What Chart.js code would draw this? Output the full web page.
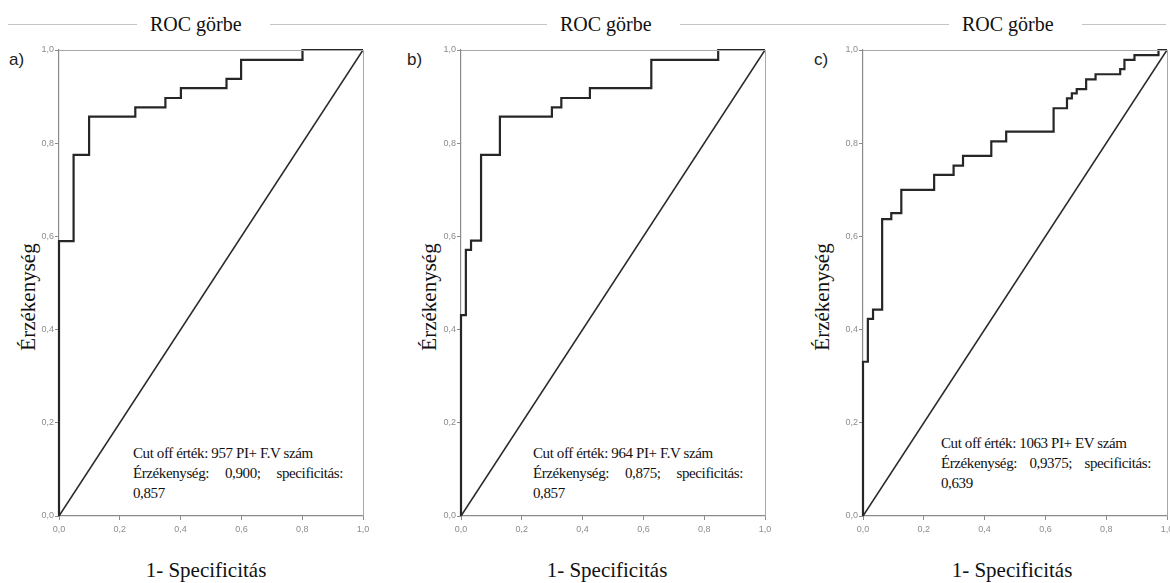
<!DOCTYPE html>
<html>
<head>
<meta charset="utf-8">
<script src="https://cdn.jsdelivr.net/npm/chart.js@4.4.1/dist/chart.umd.min.js"></script>
<style>
  html, body { margin: 0; padding: 0; background: #fff; }
  body { width: 1170px; height: 583px; position: relative; overflow: hidden; }
  canvas { position: absolute; top: 40px; }
  .rule { position: absolute; left: 8px; right: 4px; top: 24px; border-top: 1px solid #c4c4c4; }
  .title { position: absolute; top: 12px; font: 20px "Liberation Serif", serif; color: #111;
           background: #fff; padding: 0 28px 0 13px; line-height: 24px; }
  .tag { position: absolute; top: 50px; font: 17px "Liberation Sans Narrow", "Liberation Sans", sans-serif; color: #222; }
  .ytitle { position: absolute; font: 21px "Liberation Serif", serif; color: #111;
            transform: translate(-50%, -50%) rotate(-90deg); white-space: nowrap; }
  .xtitle { position: absolute; top: 558px; font: 21px "Liberation Serif", serif; color: #111;
            transform: translateX(-50%); white-space: nowrap; }
  .note { position: absolute; font: 15px "Liberation Serif", serif; color: #111; line-height: 20px;
          letter-spacing: -0.4px; }
  .note .just { width: 210px; text-align: justify; text-align-last: justify; }
</style>
</head>
<body>
<div class="rule"></div>
<div class="title" style="left:137px">ROC görbe</div>
<div class="title" style="left:547px">ROC görbe</div>
<div class="title" style="left:949px">ROC görbe</div>

<div class="tag" style="left:9px">a)</div>
<div class="tag" style="left:407px">b)</div>
<div class="tag" style="left:814px">c)</div>

<div class="ytitle" style="left:28px; top:297px">Érzékenység</div>
<div class="ytitle" style="left:429px; top:297px">Érzékenység</div>
<div class="ytitle" style="left:822px; top:297px">Érzékenység</div>

<div class="xtitle" style="left:206px">1- Specificitás</div>
<div class="xtitle" style="left:607px">1- Specificitás</div>
<div class="xtitle" style="left:1012px">1- Specificitás</div>

<div class="note" style="left:133px; top:443px">
  <div>Cut off érték: 957 PI+ F.V szám</div>
  <div class="just">Érzékenység: 0,900; specificitás:</div>
  <div>0,857</div>
</div>
<div class="note" style="left:533px; top:443px">
  <div>Cut off érték: 964 PI+ F.V szám</div>
  <div class="just">Érzékenység: 0,875; specificitás:</div>
  <div>0,857</div>
</div>
<div class="note" style="left:941px; top:433px">
  <div>Cut off érték: 1063 PI+ EV szám</div>
  <div class="just">Érzékenység: 0,9375; specificitás:</div>
  <div>0,639</div>
</div>

<canvas id="rocA" width="355" height="500" style="left:20px"></canvas>
<canvas id="rocB" width="355" height="500" style="left:422px"></canvas>
<canvas id="rocC" width="346" height="500" style="left:824px"></canvas>

<script>
// ROC step points: each point is where the curve rises (1 - specificity, sensitivity)
const fprA = [0, 0, 0.048, 0.099, 0.251, 0.350, 0.401, 0.551, 0.599, 0.801, 1.0];
const tprA = [0, 0.590, 0.775, 0.857, 0.877, 0.897, 0.918, 0.938, 0.979, 1.0, 1.0];

const fprB = [0, 0, 0.016, 0.033, 0.066, 0.128, 0.299, 0.330, 0.424, 0.626, 0.846, 1.0];
const tprB = [0, 0.431, 0.571, 0.591, 0.775, 0.857, 0.877, 0.897, 0.918, 0.979, 1.0, 1.0];

const fprC = [0, 0, 0.016, 0.033, 0.063, 0.093, 0.126, 0.234, 0.298, 0.329, 0.422, 0.471,
              0.627, 0.671, 0.687, 0.703, 0.734, 0.765, 0.846, 0.860, 0.893, 0.972, 1.0];
const tprC = [0, 0.331, 0.423, 0.443, 0.637, 0.650, 0.700, 0.732, 0.752, 0.773, 0.804, 0.825,
              0.875, 0.896, 0.907, 0.916, 0.937, 0.948, 0.959, 0.979, 0.989, 1.0, 1.0];

// reference (chance) line
const diagX = [0, 1];
const diagY = [0, 1];

const tickValues = [0, 0.2, 0.4, 0.6, 0.8, 1.0];

const toPoints = (xs, ys) => xs.map((x, i) => ({ x: x, y: ys[i] }));
const fmtTick = v => v.toFixed(1).replace('.', ',');

const frame = {
  id: 'frame',
  afterDraw(chart) {
    const a = chart.chartArea, ctx = chart.ctx;
    ctx.save();
    ctx.strokeStyle = '#a8a8a8';
    ctx.lineWidth = 1;
    ctx.beginPath();
    ctx.moveTo(a.left, a.top + 0.5);
    ctx.lineTo(a.right + 0.5, a.top + 0.5);
    ctx.lineTo(a.right + 0.5, a.bottom);
    ctx.stroke();
    ctx.restore();
  }
};

function axis(isX) {
  return {
    type: 'linear',
    min: 0,
    max: 1,
    afterBuildTicks: s => { s.ticks = tickValues.map(v => ({ value: v })); },
    afterFit: s => {
      if (isX) s.height = 24; else s.width = 39;
      s.paddingLeft = 0; s.paddingRight = 0; s.paddingTop = 0; s.paddingBottom = 0;
    },
    border: { display: true, color: '#8a8a8a', width: 1.2 },
    grid: { drawOnChartArea: false, drawTicks: true, tickLength: 4, color: '#8a8a8a' },
    ticks: {
      color: '#8c8c8c',
      padding: isX ? 4 : 1,
      maxRotation: 0,
      autoSkip: false,
      font: { family: '"Liberation Sans Narrow", "Liberation Sans", sans-serif', size: 9 },
      callback: v => fmtTick(v)
    }
  };
}

function drawRoc(id, fpr, tpr, padRight) {
  new Chart(document.getElementById(id), {
    type: 'scatter',
    data: {
      datasets: [
        {
          data: toPoints(fpr, tpr),
          showLine: true,
          stepped: 'before',
          borderColor: '#262626',
          borderWidth: 2.2,
          pointRadius: 0,
          clip: false
        },
        {
          data: toPoints(diagX, diagY),
          showLine: true,
          borderColor: '#2a2a2a',
          borderWidth: 1.5,
          pointRadius: 0,
          clip: false
        }
      ]
    },
    options: {
      responsive: false,
      animation: false,
      devicePixelRatio: 1,
      layout: { padding: { top: 10, right: padRight, left: 0, bottom: 0 } },
      plugins: { legend: { display: false }, tooltip: { enabled: false } },
      scales: { x: axis(true), y: axis(false) }
    },
    plugins: [frame]
  });
}

drawRoc('rocA', fprA, tprA, 12);
drawRoc('rocB', fprB, tprB, 12);
drawRoc('rocC', fprC, tprC, 3);
</script>
</body>
</html>
